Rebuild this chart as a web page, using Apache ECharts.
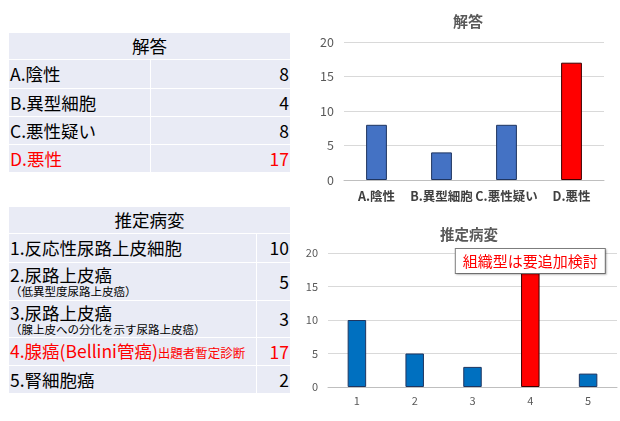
<!DOCTYPE html>
<html>
<head>
<meta charset="utf-8">
<script src="https://cdn.jsdelivr.net/npm/echarts@6/dist/echarts.min.js"></script>
<style>
  html, body { margin: 0; padding: 0; background: #fff; }
  body { width: 620px; height: 421px; position: relative; overflow: hidden;
         font-family: "Noto Sans CJK JP", "Noto Sans", sans-serif; }
  #chart { position: absolute; left: 0; top: 0; width: 620px; height: 421px; }
  table.tbl { position: absolute; left: 8px; width: 283px; border-collapse: collapse;
              table-layout: fixed; background: #E9EBF5; color: #000; font-size: 17.5px; }
  table.tbl td { border: 1.5px solid #fff; padding: 0 1px; line-height: 20px; white-space: nowrap; }
  table.tbl td.head { text-align: center; }
  table.tbl td.num { text-align: right; vertical-align: middle; }
  table.tbl .sub { font-size: 11.5px; line-height: 13px; display: block; }
  table.tbl .note { font-size: 12.5px; }
  table.tbl tr.hl td { color: #FF0000; }
</style>
</head>
<body>
<div id="chart"></div>
<table class="tbl" id="t1" style="top:32px;"></table>
<table class="tbl" id="t2" style="top:206px;"></table>
<script>
// 解答
const answerTitle = '解答';
const answerLabels = ['A.陰性', 'B.異型細胞', 'C.悪性疑い', 'D.悪性'];
const answerValues = [8, 4, 8, 17];

// 推定病変
const lesionTitle = '推定病変';
const lesionLabels = ['1.反応性尿路上皮細胞', '2.尿路上皮癌', '3.尿路上皮癌', '4.腺癌(Bellini管癌)', '5.腎細胞癌'];
const lesionSubs = ['', '（低異型度尿路上皮癌）', '（腺上皮への分化を示す尿路上皮癌）', '', ''];
const lesionNotes = ['', '', '', '出題者暫定診断', ''];
const lesionTicks = ['1', '2', '3', '4', '5'];
const lesionValues = [10, 5, 3, 17, 2];

const yTicks = [0, 5, 10, 15, 20];
const annotation = '組織型は要追加検討';

const highlightAnswer = 3;
const highlightLesion = 3;

// 表
function buildTable(id, title, labels, subs, notes, values, hl, col1, heights) {
    const t = document.getElementById(id);
    let html = `<colgroup><col style="width:${col1}px"><col></colgroup>`;
    html += `<tr style="height:${heights[0]}px"><td class="head" colspan="2">${title}</td></tr>`;
    labels.forEach((l, i) => {
        let cell = l;
        if (notes[i]) cell += `<span class="note">${notes[i]}</span>`;
        if (subs[i]) cell += `<span class="sub">${subs[i]}</span>`;
        html += `<tr class="${i === hl ? 'hl' : ''}" style="height:${heights[i + 1]}px">` +
            `<td>${cell}</td><td class="num">${values[i]}</td></tr>`;
    });
    t.innerHTML = html;
}
buildTable('t1', answerTitle, answerLabels, ['', '', '', ''], ['', '', '', ''],
    answerValues, highlightAnswer, 142, [27, 29, 28, 28, 28]);
buildTable('t2', lesionTitle, lesionLabels, lesionSubs, lesionNotes,
    lesionValues, highlightLesion, 248, [27, 29, 38, 37, 28, 28]);

// グラフ
const chart = echarts.init(document.getElementById('chart'), null, { renderer: 'canvas' });

const axisY = (gi, fs) => ({
    type: 'value', gridIndex: gi, min: yTicks[0], max: yTicks[yTicks.length - 1],
    interval: yTicks[1] - yTicks[0],
    axisLine: { show: false }, axisTick: { show: false },
    axisLabel: { color: '#595959', fontSize: fs, margin: 10 },
    splitLine: { lineStyle: { color: '#D9D9D9', width: 1 } }
});

const barData = (vals, hl, blue) => vals.map((v, i) => ({
    value: v,
    itemStyle: {
        color: i === hl ? '#FF0000' : blue,
        borderColor: i === hl ? '#3a0000' : '#1F3560',
        borderWidth: 1
    }
}));

chart.setOption({
    animation: false,
    textStyle: { fontFamily: '"Noto Sans CJK JP", "Noto Sans", sans-serif' },
    title: [
        { text: answerTitle, left: 463, top: 9, textAlign: 'center',
          textStyle: { fontSize: 15, fontWeight: 'bold', color: '#595959' } },
        { text: lesionTitle, left: 464, top: 222, textAlign: 'center',
          textStyle: { fontSize: 14.5, fontWeight: 'bold', color: '#595959' } }
    ],
    grid: [
        { left: 344, right: 16, top: 42, height: 138 },
        { left: 328, right: 3, top: 253, height: 134 }
    ],
    xAxis: [
        { type: 'category', gridIndex: 0, data: answerLabels,
          axisLine: { lineStyle: { color: '#BFBFBF' } }, axisTick: { show: false },
          axisLabel: { color: '#404040', fontSize: 12.5, fontWeight: 'bold', margin: 10, interval: 0 } },
        { type: 'category', gridIndex: 1, data: lesionTicks,
          axisLine: { lineStyle: { color: '#BFBFBF' } }, axisTick: { show: false },
          axisLabel: { color: '#595959', fontSize: 11, margin: 8 } }
    ],
    yAxis: [axisY(0, 12.5), axisY(1, 11)],
    series: [
        { type: 'bar', xAxisIndex: 0, yAxisIndex: 0, barWidth: '32%',
          data: barData(answerValues, highlightAnswer, '#4472C4') },
        { type: 'bar', xAxisIndex: 1, yAxisIndex: 1, barWidth: '32%',
          data: barData(lesionValues, highlightLesion, '#0070C0'),
          markPoint: {
              symbol: 'rect', symbolSize: 0,
              data: [{ coord: [highlightLesion, lesionValues[highlightLesion]] }],
              label: {
                  show: true, position: 'top', distance: 0,
                  formatter: annotation,
                  color: '#FF0000', fontSize: 15, lineHeight: 17,
                  backgroundColor: '#fff', borderColor: '#7F7F7F', borderWidth: 1,
                  padding: [4, 7, 3, 7],
                  shadowColor: 'rgba(0,0,0,0.2)', shadowBlur: 2, shadowOffsetX: 1, shadowOffsetY: 1
              }
          } }
    ]
});
</script>
</body>
</html>
